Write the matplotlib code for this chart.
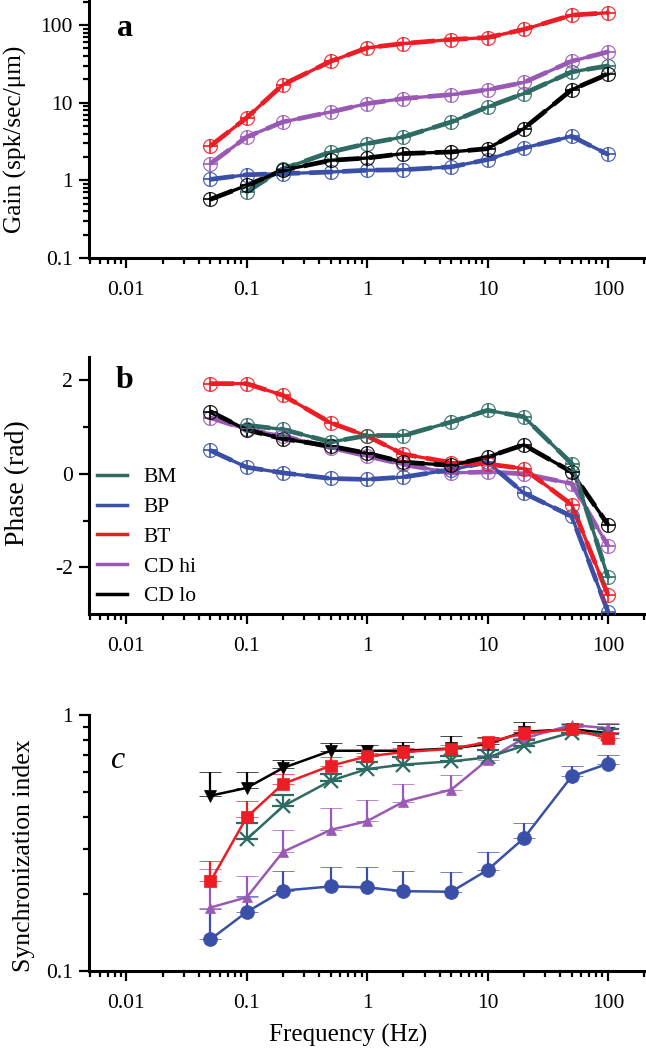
import matplotlib
matplotlib.use("Agg")
import matplotlib.pyplot as plt
from matplotlib.ticker import LogLocator, NullFormatter, FixedLocator, FixedFormatter
from matplotlib.lines import Line2D

plt.rcParams['font.family'] = ['Liberation Serif', 'DejaVu Serif']
plt.rcParams['axes.unicode_minus'] = False

freq = [0.05, 0.1, 0.2, 0.5, 1, 2, 5, 10, 20, 50, 100]
freq_bm = freq[1:]   # BM has no 0.05 Hz point

labels = ['BM', 'BP', 'BT', 'CD hi', 'CD lo']
colors = ['#2e6b63', '#3a50a8', '#ee1c24', '#9b59b6', 'black']

# panel a: gain (spk/sec/um)
gain_bm = [0.71, 1.41, 2.32, 2.97, 3.62, 5.65, 8.82, 13.1, 24.9, 29.8]
gain_bp = [1.03, 1.18, 1.22, 1.28, 1.35, 1.37, 1.49, 1.85, 2.61, 3.69, 2.16]
gain_bt = [2.77, 6.4, 17.1, 34.2, 50.8, 57.8, 65.1, 69.0, 87.6, 134, 144]
gain_cdhi = [1.64, 3.62, 5.65, 7.6, 9.73, 11.3, 12.7, 14.7, 18.2, 34.2, 45.1]
gain_cdlo = [0.57, 0.86, 1.35, 1.81, 1.94, 2.21, 2.32, 2.56, 4.64, 14.7, 23.3]

# panel b: phase (rad)
ph_bm = [1.04, 0.95, 0.68, 0.82, 0.82, 1.11, 1.36, 1.22, 0.22, -2.21]
ph_bp = [0.50, 0.14, 0.02, -0.10, -0.12, -0.07, 0.09, 0.25, -0.41, -0.91, -2.95]
ph_bt = [1.93, 1.93, 1.68, 1.09, 0.81, 0.42, 0.24, 0.21, 0.11, -0.66, -2.59]
ph_cdhi = [1.20, 0.95, 0.81, 0.56, 0.38, 0.20, 0.02, 0.04, 0.0, -0.21, -1.54]
ph_cdlo = [1.33, 0.94, 0.75, 0.59, 0.44, 0.25, 0.18, 0.36, 0.62, 0.04, -1.09]

# panel c: synchronization index and upper error
si_bm = [0.327, 0.440, 0.554, 0.615, 0.640, 0.659, 0.683, 0.758, 0.854, 0.841]
err_bm = [0.050, 0.045, 0.036, 0.038, 0.043, 0.034, 0.048, 0.042, 0.020, 0.039]
si_bp = [0.133, 0.170, 0.206, 0.214, 0.212, 0.205, 0.204, 0.248, 0.330, 0.576, 0.645]
err_bp = [0.042, 0.026, 0.040, 0.040, 0.043, 0.041, 0.040, 0.044, 0.049, 0.054, 0.055]
si_bt = [0.224, 0.399, 0.538, 0.634, 0.689, 0.716, 0.738, 0.783, 0.849, 0.880, 0.811]
err_bt = [0.045, 0.062, 0.050, 0.049, 0.023, 0.026, 0.026, 0.028, 0.025, 0.020, 0.045]
si_cdhi = [0.177, 0.194, 0.292, 0.356, 0.385, 0.458, 0.511, 0.668, 0.811, 0.914, 0.888]
err_cdhi = [0.073, 0.041, 0.065, 0.078, 0.082, 0.080, 0.074, 0.032, 0.019, 0.020, 0.042]
si_cdlo = [0.484, 0.519, 0.621, 0.725, 0.725, 0.725, 0.74, 0.77, 0.86, 0.88, 0.85]
err_cdlo = [0.113, 0.081, 0.047, 0.051, 0.039, 0.058, 0.091, 0.054, 0.077, 0.040, 0.070]

W, H = 646, 1050
fig = plt.figure(figsize=(W / 100, H / 100), dpi=100)


def make_axes(top, bottom):
    left = 89
    return fig.add_axes([left / W, 1 - bottom / H, (W - left) / W, (bottom - top) / H])


def style_axes(ax):
    for s in ['top', 'right']:
        ax.spines[s].set_visible(False)
    for s in ['left', 'bottom']:
        ax.spines[s].set_linewidth(2.2)
    ax.set_xscale('log')
    ax.set_xlim(0.0049, 207)
    ax.xaxis.set_major_locator(FixedLocator([0.01, 0.1, 1, 10, 100]))
    ax.xaxis.set_major_formatter(FixedFormatter(['0.01', '0.1', '1', '10', '100']))
    ax.xaxis.set_minor_locator(LogLocator(base=10, subs=range(2, 10), numticks=20))
    ax.xaxis.set_minor_formatter(NullFormatter())
    ax.tick_params(which='major', length=7.5, width=1.6, labelsize=15.5, direction='out')
    ax.tick_params(which='minor', length=4.5, width=1.6, direction='out')
    ax.tick_params(axis='x', which='major', pad=9)
    ax.tick_params(axis='y', which='major', pad=4)


def bode_line(ax, x, y, c):
    ax.plot(x, y, color=c, lw=2.4, zorder=2)
    ax.plot(x, y, color=c, lw=3.4, ls=(0, (5, 2)), zorder=2)
    ax.plot(x, y, ls='none', marker='o', ms=10, mfc='none', mec=c, mew=0.9, alpha=0.85, zorder=3)
    ax.plot(x, y, ls='none', marker='+', ms=10, mec=c, mew=1.2, zorder=3)


# ---- a: gain
ax1 = make_axes(0, 258)
style_axes(ax1)
ax1.set_yscale('log')
ax1.set_ylim(0.1, 210)
ax1.yaxis.set_major_locator(FixedLocator([0.1, 1, 10, 100]))
ax1.yaxis.set_major_formatter(FixedFormatter(['0.1', '1', '10', '100']))
ax1.yaxis.set_minor_locator(LogLocator(base=10, subs=range(2, 10), numticks=20))
ax1.yaxis.set_minor_formatter(NullFormatter())
gains = [gain_bm, gain_bp, gain_bt, gain_cdhi, gain_cdlo]
for i in [0, 1, 3, 4, 2]:
    x = freq_bm if i == 0 else freq
    bode_line(ax1, x, gains[i], colors[i])
ax1.set_ylabel('Gain (spk/sec/μm)', fontsize=18.3)
ax1.yaxis.set_label_coords(-0.112, 0.46)

# ---- b: phase
ax2 = make_axes(357, 614)
style_axes(ax2)
ax2.set_ylim(-3, 2.5)
ax2.set_yticks([-2, 0, 2])
ax2.set_yticks([-1, 1], minor=True)
phases = [ph_bm, ph_bp, ph_bt, ph_cdhi, ph_cdlo]
for i in [3, 1, 2, 4, 0]:
    x = freq_bm if i == 0 else freq
    bode_line(ax2, x, phases[i], colors[i])
ax2.set_ylabel('Phase (rad)', fontsize=20)
ax2.yaxis.set_label_coords(-0.106, 0.51)
handles = [Line2D([], [], color=c, lw=2.5) for c in colors]
ax2.legend(handles, labels, loc='upper left', bbox_to_anchor=(0.0, 0.60),
           frameon=False, fontsize=15.5, handlelength=1.4, handletextpad=0.8,
           labelspacing=0.45, borderaxespad=0.15, borderpad=0.2)

# ---- c: synchronization index
ax3 = make_axes(715, 971)
style_axes(ax3)
ax3.set_yscale('log')
ax3.set_ylim(0.1, 1)
ax3.yaxis.set_major_locator(FixedLocator([0.1, 1]))
ax3.yaxis.set_major_formatter(FixedFormatter(['0.1', '1']))
ax3.yaxis.set_minor_locator(FixedLocator([0.2, 0.3, 0.4, 0.5, 0.6, 0.7, 0.8, 0.9]))
ax3.yaxis.set_minor_formatter(NullFormatter())

sis = [si_bm, si_bp, si_bt, si_cdhi, si_cdlo]
errs = [err_bm, err_bp, err_bt, err_cdhi, err_cdlo]
mk = ['x', 'o', 's', '^', 'v']
msz = [10, 10, 9, 7.5, 8]
for i in [4, 1, 3, 0, 2]:
    x = freq_bm if i == 0 else freq
    ax3.errorbar(x, sis[i], yerr=[[0] * len(errs[i]), errs[i]], color=colors[i],
                 lw=1.8, elinewidth=1.6, capsize=8, capthick=1.8,
                 marker=mk[i], ms=msz[i], mew=1.6 if mk[i] == 'x' else 0.5)
ax3.set_ylabel('Synchronization index', fontsize=18.5)
ax3.yaxis.set_label_coords(-0.097, 0.45)
ax3.set_xlabel('Frequency (Hz)', fontsize=18)
ax3.xaxis.set_label_coords(0.465, -0.205)

# panel letters
fig.text(125 / W, 1 - 28 / H, 'a', fontsize=23, fontweight='bold', ha='center', va='center')
fig.text(124 / W, 1 - 381 / H, 'b', fontsize=23, fontweight='bold', ha='center', va='center')
fig.text(117 / W, 1 - 760 / H, 'c', fontsize=23, style='italic', ha='center', va='center')

fig.savefig('out.png', dpi=100)
